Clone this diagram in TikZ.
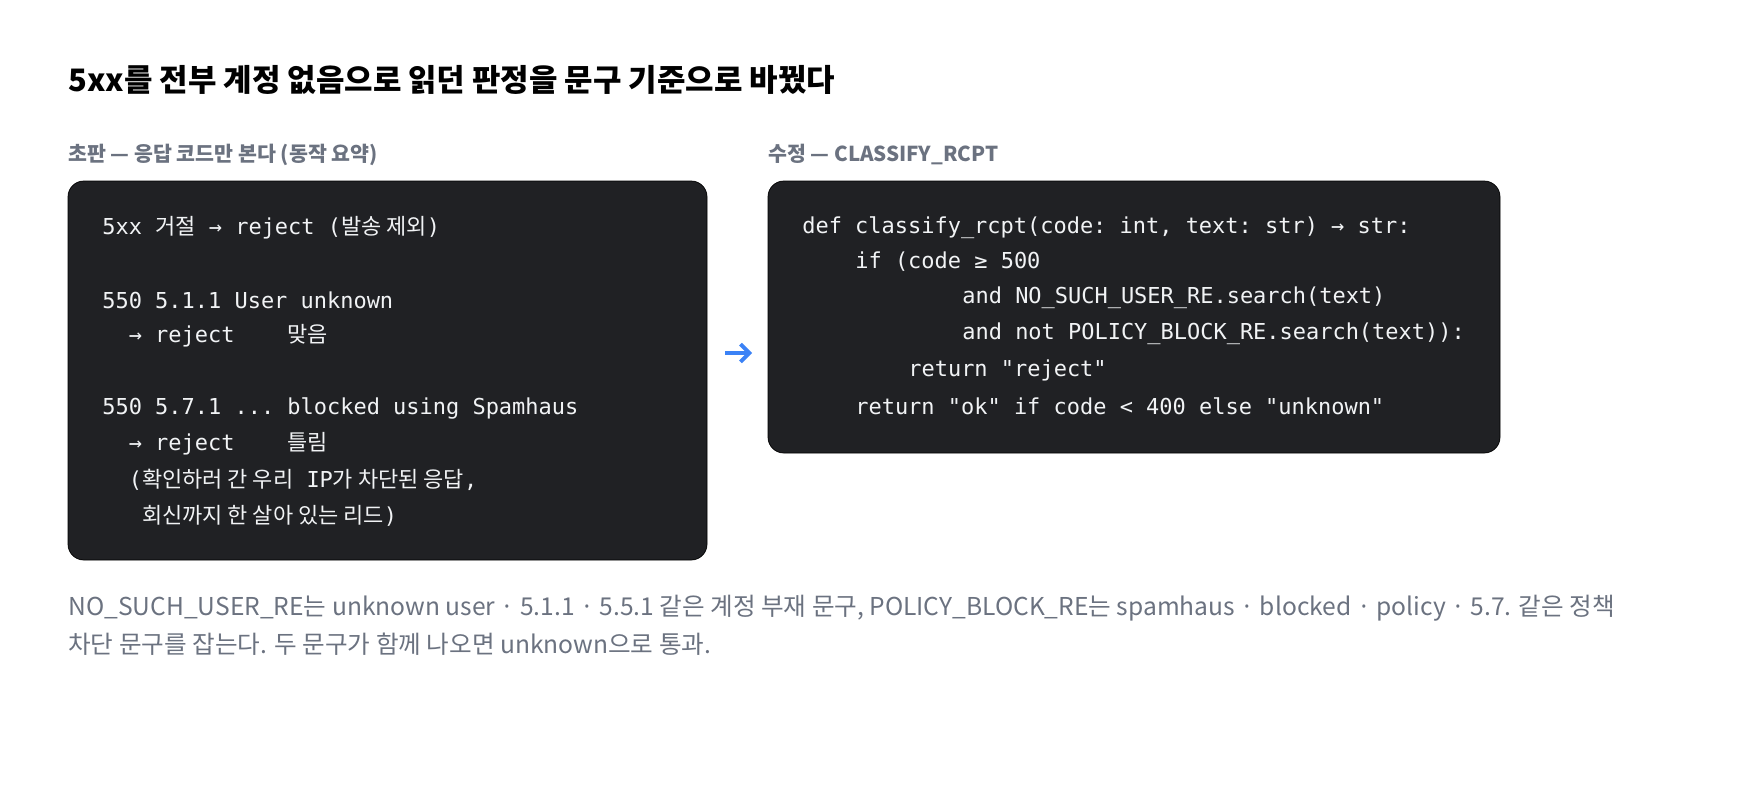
\documentclass[tikz,border=0pt]{standalone}
\usepackage{fontspec}
\setmainfont{Noto Sans CJK KR}
\setmonofont{DejaVu Sans Mono}
\newfontfamily\kr{Noto Sans CJK KR}
\usetikzlibrary{positioning,arrows.meta}
\definecolor{boxbg}{HTML}{202124}
\definecolor{labelgray}{HTML}{6B7280}
\definecolor{codefg}{HTML}{F1F3F5}
\definecolor{arrowblue}{HTML}{3B82F6}
\newcommand{\ko}[1]{{\kr #1}}

\begin{document}
\begin{tikzpicture}[x=0.02cm, y=-0.02cm]
\tikzstyle{codebox}=[fill=boxbg, rounded corners=9pt]
\tikzstyle{codeline}=[anchor=west, inner sep=0pt, text=codefg, font=\ttfamily\fontsize{12.5}{14}\selectfont]
\tikzstyle{caption}=[anchor=west, inner sep=0pt, text=labelgray, font=\bfseries\fontsize{11.7}{13}\selectfont]
\tikzstyle{note}=[anchor=west, inner sep=0pt, text=labelgray, font=\fontsize{14}{16}\selectfont]

\useasboundingbox[fill=white] (0,0) rectangle (1760,808);

% title and captions
\node[anchor=west, inner sep=0pt, font=\bfseries\fontsize{17.6}{20}\selectfont] (title) at (68,80) {5xx를 전부 계정 없음으로 읽던 판정을 문구 기준으로 바꿨다};
\node[caption] (capl) at (68,155) {초판 — 응답 코드만 본다 (동작 요약)};
\node[caption] (capr) at (768,155) {수정 — CLASSIFY\_RCPT};

% boxes
\draw[codebox] (68,181) rectangle (707,560);
\draw[codebox] (768,181) rectangle (1500,453);

% left code
\node[codeline] (l1) at (102,228) {5xx \ko{거절} → reject (\ko{발송 제외})};
\node[codeline] (l2) at (102,300) {550 5.1.1 User unknown};
\node[codeline] (l3) at (102,336) {~~→ reject~~~ \ko{맞음}};
\node[codeline] (l4) at (102,408) {550 5.7.1 ... blocked using Spamhaus};
\node[codeline] (l5) at (102,444) {~~→ reject~~~ \ko{틀림}};
\node[codeline] (l6) at (102,480) {~~(\ko{확인하러 간 우리} IP\ko{가 차단된 응답},};
\node[codeline] (l7) at (102,516) {~~~\ko{회신까지 한 살아 있는 리드})};

% right code
\node[codeline] (r1) at (802,228) {def classify\_rcpt(code: int, text: str) → str:};
\node[codeline] (r2) at (855,262) {if (code ≥ 500};
\node[codeline] (r3) at (962,298) {and NO\_SUCH\_USER\_RE.search(text)};
\node[codeline] (r4) at (962,334) {and not POLICY\_BLOCK\_RE.search(text)):};
\node[codeline] (r5) at (908,370) {return "reject"};
\node[codeline] (r6) at (855,406) {return "ok" if code < 400 else "unknown"};

% arrow between boxes
\coordinate (arrs) at (725,353);
\coordinate (arre) at (752,353);
\draw[arrowblue, line width=2.2pt, -{Straight Barb[length=5pt]}] (arrs) -- (arre);

% footer
\node[note] (f1) at (68,608) {NO\_SUCH\_USER\_RE는 unknown user · 5.1.1 · 5.5.1 같은 계정 부재 문구, POLICY\_BLOCK\_RE는 spamhaus · blocked · policy · 5.7. 같은 정책};
\node[note] (f2) at (68,644) {차단 문구를 잡는다. 두 문구가 함께 나오면 unknown으로 통과.};
\end{tikzpicture}
\end{document}
